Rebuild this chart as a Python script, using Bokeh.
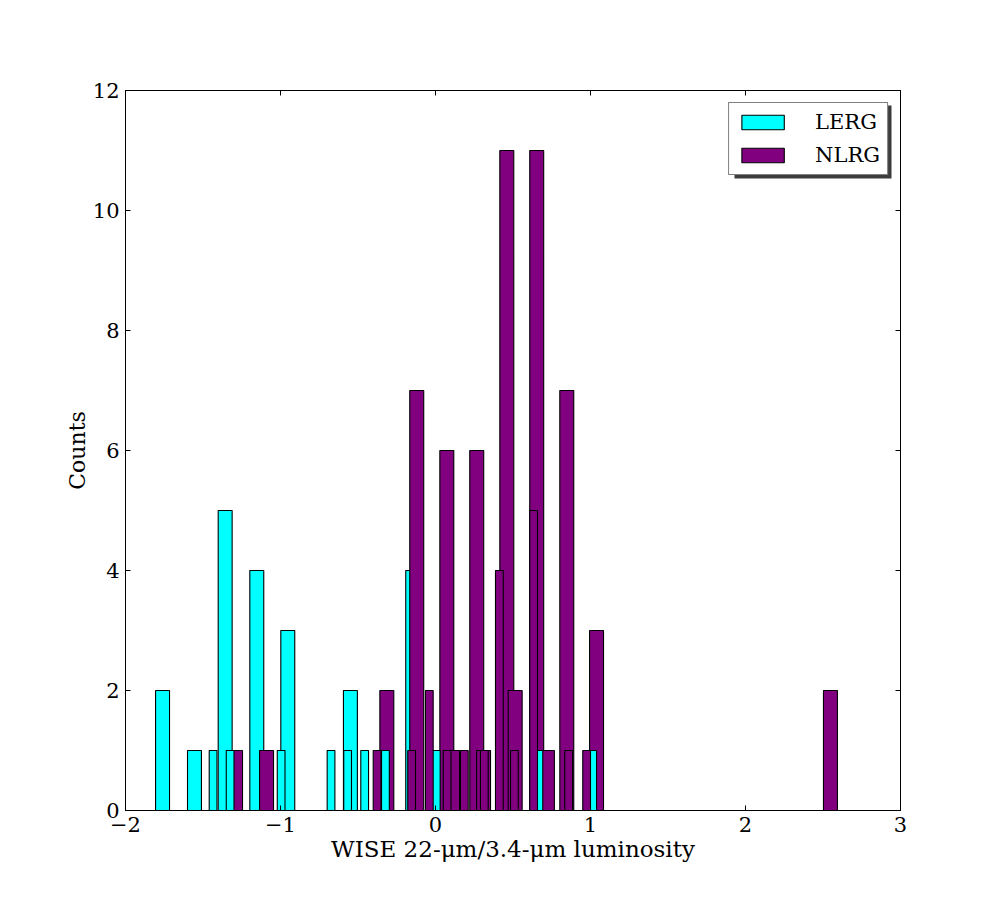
import numpy as np
from bokeh.plotting import figure
from bokeh.models import (ColumnDataSource, FixedTicker, LinearAxis, Legend, LegendItem,
                          Range1d, BoxAnnotation)
from bokeh.embed import file_html
from bokeh.resources import INLINE

# ---------------- data ----------------
x_ticks = [-2, -1, 0, 1, 2, 3]
y_ticks = [0, 2, 4, 6, 8, 10, 12]

# LERG, wide bins: left edges and counts
lerg_wide_left = [-1.806, -1.600, -1.402, -1.198, -0.998, -0.594, -0.192]
lerg_wide_count = [2, 1, 5, 4, 3, 2, 4]
# LERG, narrow bins
lerg_narrow_left = [-1.460, -1.350, -1.021, -0.699, -0.592, -0.482, -0.348, -0.020, 0.642, 0.989]
lerg_narrow_count = [1, 1, 1, 1, 1, 1, 1, 1, 1, 1]
# NLRG, wide bins (first set)
nlrg_wide_left = [-0.359, -0.166, 0.028, 0.221, 0.415, 0.608, 0.802, 0.994, 2.503]
nlrg_wide_count = [2, 7, 6, 6, 11, 11, 7, 3, 2]
# NLRG, wide bins (second set)
nlrg_wide2_left = [-1.335, -1.135, 0.065, 0.265, 0.469, 0.677]
nlrg_wide2_count = [1, 1, 1, 1, 2, 1]
# NLRG, narrow bins
nlrg_narrow_left = [-0.402, -0.179, -0.065, 0.050, 0.161, 0.290, 0.387, 0.484, 0.608, 0.834, 0.950]
nlrg_narrow_count = [1, 1, 2, 1, 1, 1, 4, 1, 5, 1, 1]

WIDE = 0.09
NARROW = 0.05

CYAN = "#00ffff"
PURPLE = "#800080"
FONT = "DejaVu Serif"

# ---------------- figure ----------------
FIG_W, FIG_H = 984, 884
B_LEFT, B_RIGHT, B_TOP, B_BOTTOM = 125, 84, 90, 74
FRAME_W = FIG_W - B_LEFT - B_RIGHT
FRAME_H = FIG_H - B_TOP - B_BOTTOM

p = figure(width=FIG_W, height=FIG_H, x_range=Range1d(-2, 3), y_range=Range1d(0, 12),
           output_backend="svg", toolbar_location=None,
           min_border_left=B_LEFT, min_border_right=B_RIGHT,
           min_border_top=B_TOP, min_border_bottom=B_BOTTOM)
p.background_fill_color = "white"
p.border_fill_color = "white"
p.outline_line_color = "black"
p.outline_line_width = 1
p.grid.visible = False

bottom_axis = p.xaxis[0]
left_axis = p.yaxis[0]


def src(left, count, width):
    left = np.asarray(left, dtype=float)
    return ColumnDataSource(dict(left=left, right=left + width,
                                 top=np.asarray(count, dtype=float),
                                 bottom=np.zeros(len(left))))


bar_kw = dict(line_color="black", line_width=1.1)
r_lerg = p.quad(left="left", right="right", top="top", bottom="bottom",
                source=src(lerg_wide_left, lerg_wide_count, WIDE), fill_color=CYAN, **bar_kw)
r_nlrg = p.quad(left="left", right="right", top="top", bottom="bottom",
                source=src(nlrg_wide_left, nlrg_wide_count, WIDE), fill_color=PURPLE, **bar_kw)
p.quad(left="left", right="right", top="top", bottom="bottom",
       source=src(nlrg_wide2_left, nlrg_wide2_count, WIDE), fill_color=PURPLE, **bar_kw)
p.quad(left="left", right="right", top="top", bottom="bottom",
       source=src(lerg_narrow_left, lerg_narrow_count, NARROW), fill_color=CYAN, **bar_kw)
p.quad(left="left", right="right", top="top", bottom="bottom",
       source=src(nlrg_narrow_left, nlrg_narrow_count, NARROW), fill_color=PURPLE, **bar_kw)

# ---------------- axes ----------------
minus = "\u2212"
bottom_axis.ticker = FixedTicker(ticks=x_ticks)
bottom_axis.major_label_overrides = {t: (minus + str(-t) if t < 0 else str(t)) for t in x_ticks}
left_axis.ticker = FixedTicker(ticks=y_ticks)

top_axis = LinearAxis(ticker=FixedTicker(ticks=x_ticks))
right_axis = LinearAxis(ticker=FixedTicker(ticks=y_ticks))
p.add_layout(top_axis, "above")
p.add_layout(right_axis, "right")

for ax in [bottom_axis, left_axis, top_axis, right_axis]:
    ax.axis_line_color = "black"
    ax.axis_line_width = 1
    ax.major_tick_in = 5
    ax.major_tick_out = 0
    ax.minor_tick_in = 0
    ax.minor_tick_out = 0
    ax.major_tick_line_color = "black"
    ax.major_tick_line_width = 1
    ax.major_label_text_font = FONT
    ax.major_label_text_font_size = "21px"
    ax.major_label_text_color = "black"
    ax.axis_label_text_font = FONT
    ax.axis_label_text_font_size = "22px"
    ax.axis_label_text_font_style = "normal"
    ax.axis_label_text_color = "black"

for ax in [top_axis, right_axis]:
    ax.major_label_text_color = None

bottom_axis.axis_label_text_font_size = "23px"
bottom_axis.major_label_standoff = 6
left_axis.major_label_standoff = 6
bottom_axis.axis_label = "WISE 22-\u03bcm/3.4-\u03bcm luminosity"
left_axis.axis_label = "Counts"
bottom_axis.axis_label_standoff = 1
left_axis.axis_label_standoff = 0

# ---------------- legend with drop shadow ----------------
LEG_MARGIN = 12
LEG_PAD = 7
GLYPH_W, GLYPH_H = 53, 18
LEG_W, LEG_H = 157, 73
SHADOW = 3


def px2x(px):
    return -2 + px * 5.0 / FRAME_W


def px2y(py):
    return 12 - py * 12.0 / FRAME_H


leg_right_px = FRAME_W - LEG_MARGIN
leg_top_px = LEG_MARGIN
shadow = BoxAnnotation(left=px2x(leg_right_px - LEG_W + SHADOW), right=px2x(leg_right_px + SHADOW),
                       top=px2y(leg_top_px + SHADOW), bottom=px2y(leg_top_px + LEG_H + SHADOW),
                       fill_color="#3c3c3c", fill_alpha=1.0, line_color=None)
p.add_layout(shadow)

legend = Legend(items=[LegendItem(label="LERG", renderers=[r_lerg]),
                       LegendItem(label="NLRG", renderers=[r_nlrg])],
                location="top_right", margin=LEG_MARGIN, padding=LEG_PAD,
                glyph_width=GLYPH_W, glyph_height=GLYPH_H, label_height=18,
                spacing=9, label_standoff=26,
                label_text_font=FONT, label_text_font_size="21px",
                label_text_color="black",
                border_line_color="black", border_line_width=1,
                background_fill_color="white", background_fill_alpha=1.0)
p.add_layout(legend)

open("out.html", "w").write(file_html(p, INLINE))
